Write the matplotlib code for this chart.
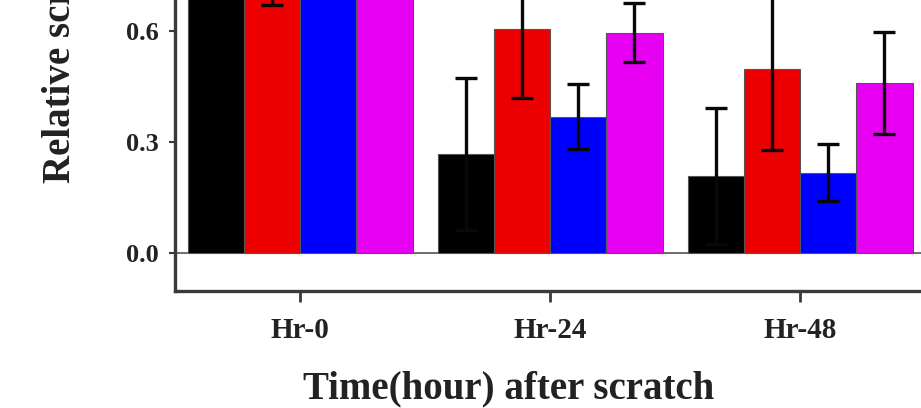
import matplotlib
matplotlib.use("Agg")
import matplotlib.pyplot as plt
import numpy as np

categories = ["Hr-0", "Hr-24", "Hr-48"]
series_names = ["Group 1", "Group 2", "Group 3", "Group 4"]
values = [
    [1.00, 0.268, 0.208],   # black
    [1.00, 0.605, 0.497],   # red
    [1.00, 0.368, 0.216],   # blue
    [1.00, 0.595, 0.459],   # magenta
]
errors = [
    [0.10, 0.205, 0.184],
    [0.33, 0.186, 0.219],
    [0.10, 0.088, 0.077],
    [0.10, 0.080, 0.137],
]
colors = ["#000000", "#EE0000", "#0000FF", "#E800F2"]
yticks = [0.0, 0.3, 0.6, 0.9, 1.2]

plt.rcParams['font.family'] = ['Liberation Serif', 'DejaVu Serif']
plt.rcParams['font.weight'] = 'bold'

W, H = 921, 408
fig = plt.figure(figsize=(W / 100, H / 100), dpi=100)
ppu = 370.0
ylo, yhi = -0.103, 1.2
ax = fig.add_axes([175 / W, 117 / H, 750 / W, ppu * (yhi - ylo) / H])

x = np.arange(len(categories))
w = 0.225
for i, (vals, errs, c) in enumerate(zip(values, errors, colors)):
    ax.bar(x + (i - 1.5) * w, vals, w, color=c, edgecolor='#555555', linewidth=0.8,
           yerr=errs, capsize=8, zorder=2,
           error_kw=dict(ecolor='#080808', elinewidth=2.4, capthick=2.4, zorder=3),
           label=series_names[i])

ax.axhline(0, color='#555555', lw=1.2, zorder=1)
ax.set_xlim(-0.5, 2.5)
ax.set_ylim(ylo, yhi)
ax.set_xticks(x)
ax.set_xticklabels(categories, fontsize=21, fontweight='bold')
ax.set_yticks(yticks)
ax.set_yticklabels([f"{v:.1f}" for v in yticks], fontsize=19, fontweight='bold')
for s in ['top', 'right']:
    ax.spines[s].set_visible(False)
for s in ['left', 'bottom']:
    ax.spines[s].set_linewidth(2.4)
    ax.spines[s].set_color('#3a3a3a')
ax.tick_params(axis='y', direction='out', length=4, width=1.5, pad=8, colors='#3a3a3a', labelcolor='#222222')
ax.tick_params(axis='x', direction='out', length=8, width=2, pad=11, colors='#3a3a3a', labelcolor='#222222')

fig.text(509 / W, (H - 389) / H, "Time(hour) after scratch", ha='center', va='center',
         fontsize=28, fontweight='bold', color='#222222')
fig.text(60 / W, (H - 183) / H, "Relative scratch area", rotation=90, ha='center', va='bottom',
         fontsize=28, fontweight='bold', color='#222222')

fig.savefig("out.png", dpi=100)
